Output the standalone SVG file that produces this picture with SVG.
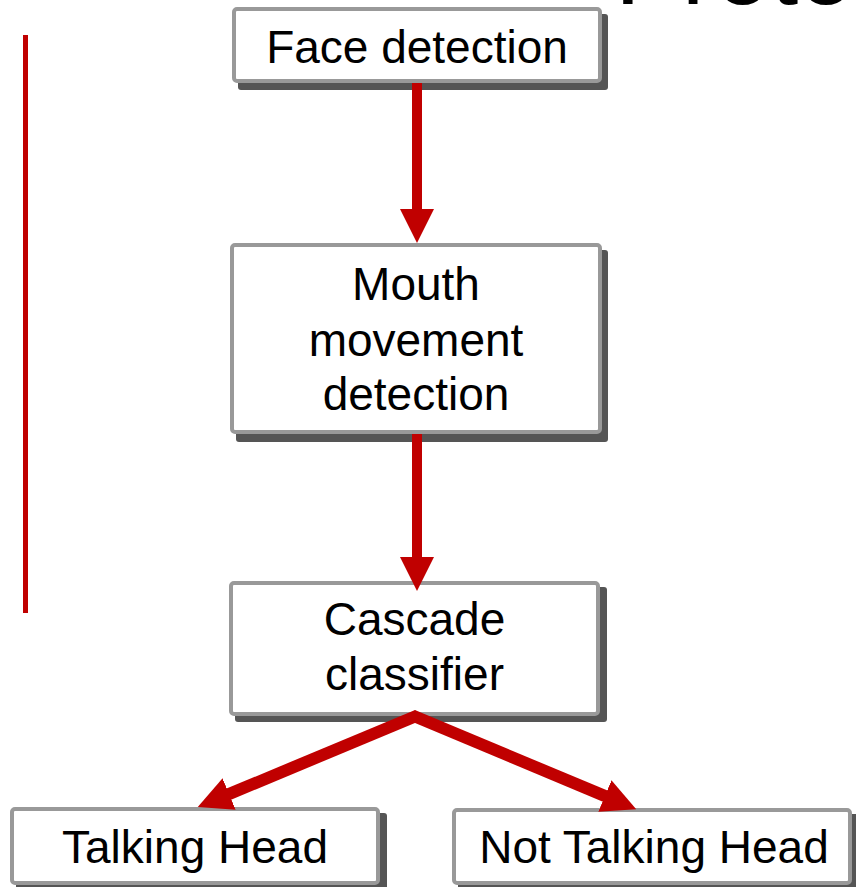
<svg xmlns="http://www.w3.org/2000/svg" width="856" height="887" viewBox="0 0 856 887">
<style>
.shadow{fill:#555555}
.box{fill:#ffffff;stroke:#999999;stroke-width:4}
.lbl{font-family:"Liberation Sans",Arial,sans-serif;font-size:46px;fill:#000000;text-anchor:middle}
.conn{stroke:#c00000;fill:none}
.v{stroke-width:10}
.d{stroke-width:12}
</style>
<defs>
<marker id="ah" markerUnits="userSpaceOnUse" markerWidth="34" markerHeight="34" viewBox="0 0 34 34" refX="1" refY="17" orient="auto">
<path d="M0,0 L34,17 L0,34 z" fill="#c00000"/>
</marker>
</defs>
<rect width="856" height="887" fill="#ffffff"/>
<text x="615" y="4" font-family="Liberation Sans,Arial,sans-serif" font-size="100" fill="#000000">Proto</text>
<line x1="25.5" y1="35" x2="25.5" y2="613" stroke="#c00000" stroke-width="5"/>
<g id="face-detection">
<rect class="shadow" x="238" y="14" width="370" height="76" rx="3"/>
<rect class="box" x="234" y="9" width="366" height="72" rx="3"/>
<text class="lbl" x="417" y="63">Face detection</text>
</g>
<g id="mouth-movement-detection">
<rect class="shadow" x="236" y="250" width="372" height="192" rx="3"/>
<rect class="box" x="232" y="245" width="368" height="187" rx="3"/>
<text class="lbl" x="416" y="300">Mouth</text>
<text class="lbl" x="416" y="356">movement</text>
<text class="lbl" x="416" y="410">detection</text>
</g>
<g id="cascade-classifier">
<rect class="shadow" x="235" y="587" width="372" height="135" rx="3"/>
<rect class="box" x="231" y="583" width="367" height="131" rx="3"/>
<text class="lbl" x="414.5" y="635">Cascade</text>
<text class="lbl" x="414.5" y="690">classifier</text>
</g>
<g id="talking-head">
<rect class="shadow" x="16" y="813" width="371" height="80" rx="3"/>
<rect class="box" x="12" y="809" width="366" height="74" rx="3"/>
<text class="lbl" x="195" y="863">Talking Head</text>
</g>
<g id="not-talking-head">
<rect class="shadow" x="458" y="814" width="401" height="80" rx="3"/>
<rect class="box" x="454" y="810" width="396" height="73" rx="3"/>
<text class="lbl" x="654" y="863">Not Talking Head</text>
</g>
<g id="connectors">
<line class="conn v" x1="417" y1="83" x2="417" y2="210" marker-end="url(#ah)"/>
<line class="conn v" x1="417" y1="434" x2="417" y2="558" marker-end="url(#ah)"/>
<line class="conn d" x1="417.4" y1="715.5" x2="228.2" y2="794.4" marker-end="url(#ah)"/>
<line class="conn d" x1="412.6" y1="715.5" x2="605.8" y2="796.4" marker-end="url(#ah)"/>
</g>
</svg>
